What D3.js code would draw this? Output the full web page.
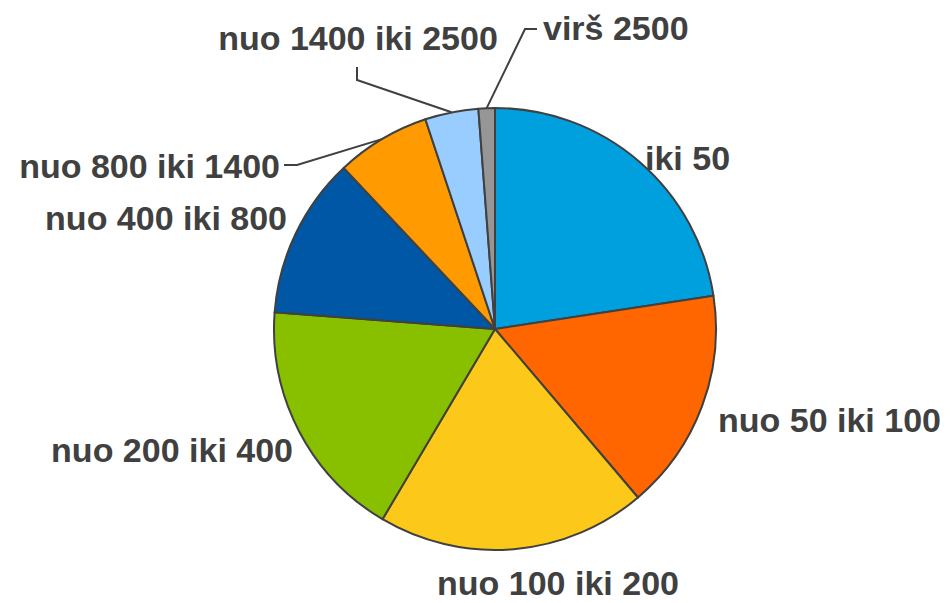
<!DOCTYPE html>
<html>
<head>
<meta charset="utf-8">
<script src="https://cdn.jsdelivr.net/npm/d3@7"></script>
<style>
  html, body { margin: 0; padding: 0; background: #fff; }
  svg { display: block; }
  .lbl { font-family: "Liberation Sans", Arial, sans-serif; font-weight: bold; font-size: 34px; fill: #404040; }
</style>
</head>
<body>
<svg id="chart"></svg>
<script>
// chart data (shares, %)
const categories = ["iki 50", "nuo 50 iki 100", "nuo 100 iki 200", "nuo 200 iki 400",
                    "nuo 400 iki 800", "nuo 800 iki 1400", "nuo 1400 iki 2500", "virš 2500"];
const values = [22.6, 16.2, 19.7, 17.7, 11.8, 6.9, 3.9, 1.2];
const colors = ["#00A0DE", "#FF6600", "#FCC81A", "#88C000", "#0057A6", "#FF9A00", "#99CCFF", "#969696"];

// label placement: where the text sits, and an optional leader elbow
const labelLayout = [
    {x: 645, y: 170, anchor: "start"},
    {x: 718, y: 432, anchor: "start"},
    {x: 558, y: 595, anchor: "middle"},
    {x: 293, y: 462, anchor: "end"},
    {x: 287, y: 230, anchor: "end"},
    {x: 280, y: 178, anchor: "end", elbow: [297, 165], tail: [284, 165]},
    {x: 358, y: 50, anchor: "middle", elbow: [357, 80], tail: [357, 67]},
    {x: 543, y: 40, anchor: "start", elbow: [525, 29], tail: [537, 29]}
];

window.addEventListener('load', () => {
    const width = 951, height = 603;
    const cx = 495, cy = 329, radius = 221;

    const svg = d3.select('#chart')
                  .attr('width', width)
                  .attr('height', height);

    const rows = categories.map((c, i) => ({name: c, value: values[i], color: colors[i], layout: labelLayout[i]}));

    const pie = d3.pie().sort(null).value(d => d.value);
    const arc = d3.arc().innerRadius(0).outerRadius(radius);
    const arcs = pie(rows);

    const g = svg.append('g').attr('transform', `translate(${cx},${cy})`);

    g.selectAll('path')
     .data(arcs)
     .enter()
     .append('path')
     .attr('d', arc)
     .attr('fill', d => d.data.color)
     .attr('stroke', '#404040')
     .attr('stroke-width', 2)
     .attr('stroke-linejoin', 'round');

    // point on the outer edge, middle of the slice
    let edgePoint = (d) => {
        let a = (d.startAngle + d.endAngle) / 2;
        return [cx + radius * Math.sin(a), cy - radius * Math.cos(a)];
    };

    // leader lines for the small slices
    svg.append('g')
       .selectAll('polyline')
       .data(arcs.filter(d => d.data.layout.elbow))
       .enter()
       .append('polyline')
       .attr('points', d => [edgePoint(d), d.data.layout.elbow, d.data.layout.tail].map(p => p.join(',')).join(' '))
       .attr('fill', 'none')
       .attr('stroke', '#404040')
       .attr('stroke-width', 2);

    svg.append('g')
       .selectAll('text')
       .data(arcs)
       .enter()
       .append('text')
       .attr('class', 'lbl')
       .attr('x', d => d.data.layout.x)
       .attr('y', d => d.data.layout.y)
       .attr('text-anchor', d => d.data.layout.anchor)
       .text(d => d.data.name);
});
</script>
</body>
</html>
